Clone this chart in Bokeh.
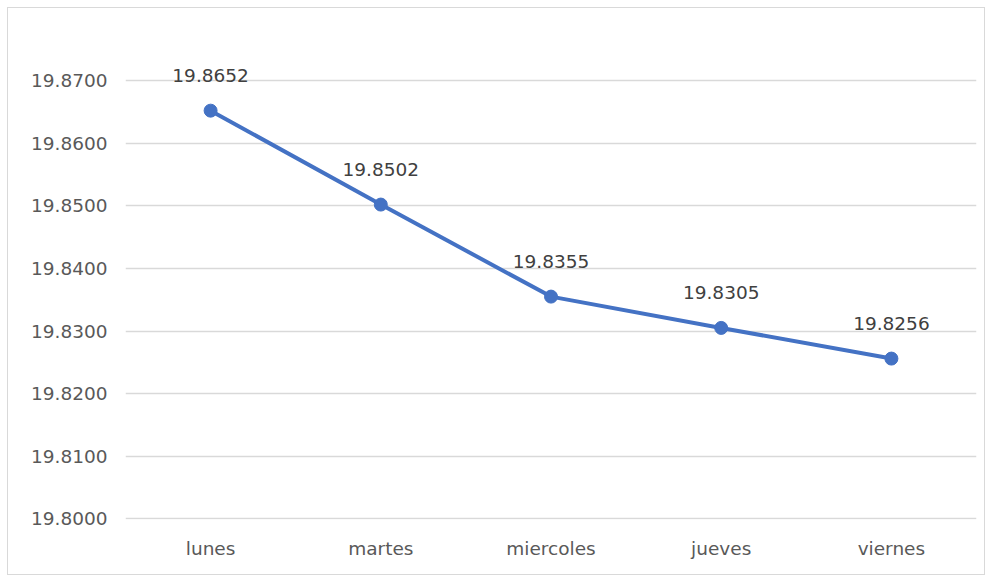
from bokeh.plotting import figure
from bokeh.models import ColumnDataSource, FixedTicker, Range1d, FactorRange, CustomJSTickFormatter
from bokeh.embed import file_html
from bokeh.resources import INLINE
from bokeh.core.properties import value

days = ["lunes", "martes", "miercoles", "jueves", "viernes"]
rates = [19.8652, 19.8502, 19.8355, 19.8305, 19.8256]
labels = ["19.8652", "19.8502", "19.8355", "19.8305", "19.8256"]
y_ticks = [19.80, 19.81, 19.82, 19.83, 19.84, 19.85, 19.86, 19.87]

src = ColumnDataSource(dict(day=days, rate=rates, label=labels))

FONT = "DejaVu Sans"

p = figure(x_range=FactorRange(*days), y_range=Range1d(19.7999, 19.8796),
           width=978, height=568, output_backend="svg", toolbar_location=None,
           min_border_left=117, min_border_right=10, min_border_top=12, min_border_bottom=57)
p.styles = {"border": "1px solid #d9d9d9", "margin-left": "7px", "margin-top": "7px"}
p.outline_line_color = None
p.background_fill_color = "white"
p.border_fill_color = "white"

p.line("day", "rate", source=src, line_color="#4472C4", line_width=4)
p.scatter("day", "rate", source=src, size=13, fill_color="#4472C4", line_color="#4472C4")
p.text("day", "rate", text="label", source=src, text_align="center", text_baseline="bottom",
       y_offset=-29, text_font=value(FONT), text_font_size="18.5px", text_color="#404040")

p.yaxis.ticker = FixedTicker(ticks=y_ticks)
p.yaxis.formatter = CustomJSTickFormatter(code="return tick.toFixed(4);")
for ax in (p.xaxis, p.yaxis):
    ax.axis_line_color = None
    ax.major_tick_line_color = None
    ax.minor_tick_line_color = None
    ax.major_label_text_font = FONT
    ax.major_label_text_font_size = "18.5px"
    ax.major_label_text_color = "#595959"
p.yaxis.major_label_standoff = 12
p.xaxis.major_label_standoff = 12

p.xgrid.grid_line_color = None
p.ygrid.grid_line_color = "#d9d9d9"
p.ygrid.grid_line_width = 1.5

open("out.html", "w").write(file_html(p, INLINE))
